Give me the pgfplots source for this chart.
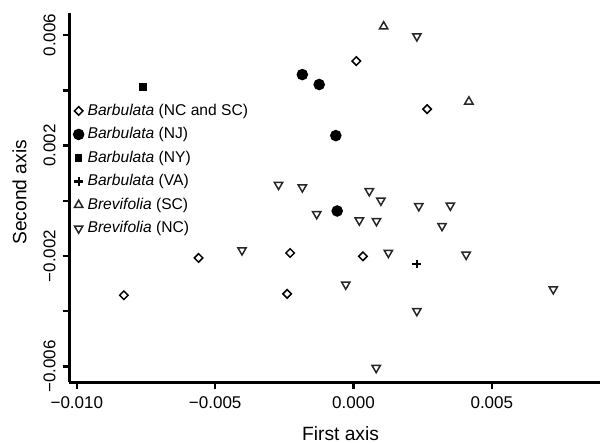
\documentclass[border=0pt]{standalone}
\usepackage{pgfplots}
\pgfplotsset{compat=1.18}
\usepackage{fontspec}
\setmainfont{Liberation Sans}

\begin{document}
\begin{tikzpicture}
\begin{axis}[
    name=ax,
    scale only axis,
    width=265.4pt, height=184.8pt,
    xmin=-0.01027, xmax=0.00891,
    ymin=-0.00658, ymax=0.0068,
    axis x line=bottom, axis y line=left,
    axis line style={-, line width=1.2pt},
    tick align=outside,
    major tick length=3.4pt,
    tick style={line width=1.2pt, black},
    scaled ticks=false,
    xtick={-0.010,-0.005,0,0.005},
    xticklabels={{−0.010},{−0.005},{0.000},{0.005}},
    ytick={-0.006,-0.004,-0.002,0,0.002,0.004,0.006},
    yticklabels={{−0.006},{},{−0.002},{},{0.002},{},{0.006}},
    ticklabel style={font=\fontsize{8.5}{10}\selectfont},
    yticklabel style={rotate=90, anchor=south},
    xlabel={First axis},
    ylabel={Second axis},
    label style={font=\fontsize{9.6}{11}\selectfont},
    xlabel style={at={(axis description cs:0.511,-0.157)}, anchor=base},
    ylabel style={at={(axis description cs:-0.094,0.515)}, anchor=center},
    legend style={at={(-0.004,0.777)}, anchor=north west, draw=none, fill=none,
        font=\fontsize{7.8}{9}\selectfont, row sep=0.6pt},
    legend cell align=left,
    legend image code/.code={\draw[mark repeat=2,mark phase=2,#1]
        plot coordinates {(0cm,0cm)(0.1cm,0cm)(0.2cm,0cm)};},
    every axis plot/.append style={only marks, black, line width=0.75pt},
]
% Barbulata (NC and SC)
\addplot[mark=square, mark size=1.5pt, mark options={rotate=45}] coordinates {
    (0.00010,0.00506) (0.00266,0.00332) (-0.00560,-0.00207) (-0.00830,-0.00342)
    (-0.00229,-0.00189) (-0.00240,-0.00337) (0.00034,-0.00201)};
% Barbulata (NJ)
\addplot[mark=*, mark size=2.5pt] coordinates {
    (-0.00185,0.00457) (-0.00124,0.00421) (-0.00064,0.00236) (-0.00059,-0.00037)};
% Barbulata (NY)
\addplot[mark=square*, mark size=1.5pt] coordinates {(-0.00761,0.00412)};
% Barbulata (VA)
\addplot[mark=+, mark size=2.2pt, mark options={line width=1.1pt}] coordinates {(0.00229,-0.00229)};
% Brevifolia (SC)
\addplot[mark=triangle, mark size=2.4pt, draw=black!85] coordinates {
    (0.00109,0.00631) (0.00417,0.00359)};
% Brevifolia (NC)
\addplot[mark=triangle, mark size=2.4pt, mark options={rotate=180}, draw=black!85] coordinates {
    (0.00229,0.00596) (-0.00271,0.00058) (-0.00185,0.00049) (0.00057,0.00035)
    (0.00099,0.00001) (0.00236,-0.00019) (-0.00133,-0.00048) (0.00021,-0.00071)
    (0.00083,-0.00073) (-0.00403,-0.00179) (0.00126,-0.00188) (0.00350,-0.00017)
    (0.00320,-0.00091) (0.00407,-0.00195) (0.00722,-0.00320) (0.00229,-0.00399)
    (-0.00028,-0.00303) (0.00082,-0.00605)};
\legend{{\textit{Barbulata} (NC and SC)},{\textit{Barbulata} (NJ)},{\textit{Barbulata} (NY)},
    {\textit{Barbulata} (VA)},{\textit{Brevifolia} (SC)},{\textit{Brevifolia} (NC)}}
\end{axis}
\pgfresetboundingbox
\path[use as bounding box] ([shift={(-34.7pt,-30.2pt)}]ax.south west) rectangle ([shift={(0pt,6.5pt)}]ax.north east);
\end{tikzpicture}
\end{document}
